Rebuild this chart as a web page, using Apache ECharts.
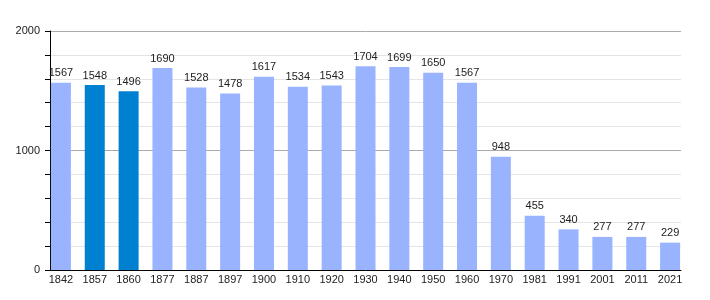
<!DOCTYPE html>
<html><head><meta charset="utf-8">
<script src="https://cdn.jsdelivr.net/npm/echarts@6/dist/echarts.min.js"></script>
<style>html,body{margin:0;padding:0;background:#fff}#c{width:710px;height:300px}</style>
</head><body><div id="c"></div>
<script>
var years = ['1842','1857','1860','1877','1887','1897','1900','1910','1920','1930','1940','1950','1960','1970','1981','1991','2001','2011','2021'];
var population = [1567,1548,1496,1690,1528,1478,1617,1534,1543,1704,1699,1650,1567,948,455,340,277,277,229];
var highlighted = ['1857','1860'];
var yTickLabels = [0,1000,2000];

var chart = echarts.init(document.getElementById('c'), null, {renderer:'canvas'});
var font = 'Liberation Sans, Arial, sans-serif';
chart.setOption({
  animation:false,
  grid:[
    {left:50, right:29, top:31, bottom:30},
    {left:44, right:23, top:31, bottom:30}
  ],
  xAxis:[
    {gridIndex:0, type:'value', min:0, max:1, show:true,
     axisLine:{show:true, onZero:false, lineStyle:{color:'#000', width:1}},
     axisTick:{show:false}, axisLabel:{show:false}, splitLine:{show:false}},
    {gridIndex:1, type:'category', data:years,
     axisLine:{show:false}, axisTick:{show:false},
     axisLabel:{fontFamily:font, fontSize:11, color:'#222', margin:4, interval:0}}
  ],
  yAxis:[
    {gridIndex:0, type:'value', min:0, max:2000, interval:200,
     axisLine:{show:true, lineStyle:{color:'#000', width:1}},
     axisTick:{show:true, length:5, lineStyle:{color:'#000'}},
     axisLabel:{fontFamily:font, fontSize:11, color:'#222', margin:10,
       formatter:function(v){return yTickLabels.indexOf(v)>=0 ? String(v) : '';}},
     splitLine:{show:true, lineStyle:{color:['#aaaaaa','#e4e4e4','#e4e4e4','#e4e4e4','#e4e4e4'], width:1}}},
    {gridIndex:1, type:'value', min:0, max:2000, show:false}
  ],
  series:[{
    type:'bar', xAxisIndex:1, yAxisIndex:1,
    barWidth:20,
    data: population.map(function(v,i){
      return {value:v, itemStyle:{color: highlighted.indexOf(years[i])>=0 ? '#0080d0' : '#99b3ff'}};
    }),
    label:{show:true, position:'top', distance:4, fontFamily:font, fontSize:11, color:'#222'}
  }]
});
</script></body></html>
